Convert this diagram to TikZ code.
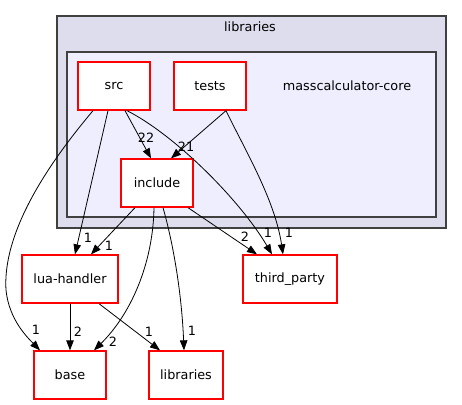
\documentclass[tikz,border=0pt]{standalone}
\usepackage{fontspec}
\setmainfont{DejaVu Sans}
\usetikzlibrary{arrows.meta}
\definecolor{outerfill}{HTML}{DDDDEE}
\definecolor{innerfill}{HTML}{EEEEFF}
\definecolor{clusterline}{HTML}{404040}
\definecolor{nodered}{HTML}{FF0000}
\tikzset{
  dirbox/.style={draw=nodered, fill=white, text=black, line width=1.3pt, minimum width=72pt, minimum height=48pt, inner sep=0pt, font=\fontsize{12.8}{15}\selectfont},
  cluster/.style={draw=clusterline, line width=1.5pt},
  txt/.style={font=\fontsize{12.8}{15}\selectfont, inner sep=0pt},
  lab/.style={font=\fontsize{12.8}{15}\selectfont, inner sep=0pt},
  arr/.style={draw=black, line width=0.8pt, -{Triangle[length=10pt,width=7.5pt]}}
}
\begin{document}
\begin{tikzpicture}[x=1pt,y=-1pt]
\useasboundingbox (0,0) rectangle (462,404);
\fill[white] (0,0) rectangle (462,404);
% clusters
\filldraw[cluster, fill=outerfill] (57,16) rectangle (446,228);
\node[txt] (outerlab) at (250,27) {libraries};
\filldraw[cluster, fill=innerfill] (67,52) rectangle (436,217);
\node[txt] (innerlab) at (347,86) {masscalculator-core};
% nodes
\node[dirbox] (src) at (114,86) {src};
\node[dirbox] (tests) at (210,86) {tests};
\node[dirbox] (include) at (157,183) {include};
\node[dirbox, minimum width=96pt] (lua) at (70,279) {lua-handler};
\node[dirbox, minimum width=94pt] (third) at (290,279) {third\_party};
\node[dirbox] (base) at (70,375) {base};
\node[dirbox, minimum width=74pt] (libs) at (186,375) {libraries};
% edges
\draw[arr] ([xshift=11pt]src.south) -- ([xshift=-6pt]include.north);
\node[lab] (l1) at (146,138) {22};
\draw[arr] ([xshift=16pt]tests.south) -- ([xshift=14pt]include.north);
\node[lab] (l2) at (186,147) {21};
\draw[arr] ([xshift=-21pt]src.south) .. controls (60,150) and (2,225) .. (6,290) .. controls (9,320) and (28,338) .. ([xshift=-30pt]base.north);
\node[lab] (l3) at (36,330) {1};
\draw[arr] ([xshift=-6pt]src.south) -- ([xshift=5pt]lua.north);
\node[lab] (l4) at (88,238) {1};
\draw[arr] ([xshift=13pt]src.south) .. controls (175,135) and (240,200) .. ([xshift=-18pt]third.north);
\node[lab] (l5) at (268,233) {1};
\draw[arr] ([xshift=16pt]tests.south) .. controls (245,150) and (275,200) .. ([xshift=-7pt]third.north);
\node[lab] (l6) at (289,233) {1};
\draw[arr] ([xshift=-22pt]include.south) -- ([xshift=21pt]lua.north);
\node[lab] (l7) at (109,246) {1};
\draw[arr] ([xshift=-3pt]include.south) .. controls (153,265) and (130,315) .. ([xshift=24pt]base.north);
\node[lab] (l8) at (113,342) {2};
\draw[arr] ([xshift=6pt]include.south) .. controls (175,250) and (182,300) .. ([xshift=-2pt]libs.north);
\node[lab] (l9) at (192,331) {1};
\draw[arr] ([xshift=31pt]include.south) -- ([xshift=-33pt]third.north);
\node[lab] (l10) at (245,237) {2};
\draw[arr] (lua.south) -- (base.north);
\node[lab] (l11) at (78,332) {2};
\draw[arr] ([xshift=29pt]lua.south) -- ([xshift=-26pt]libs.north);
\node[lab] (l12) at (149,332) {1};
\end{tikzpicture}
\end{document}
